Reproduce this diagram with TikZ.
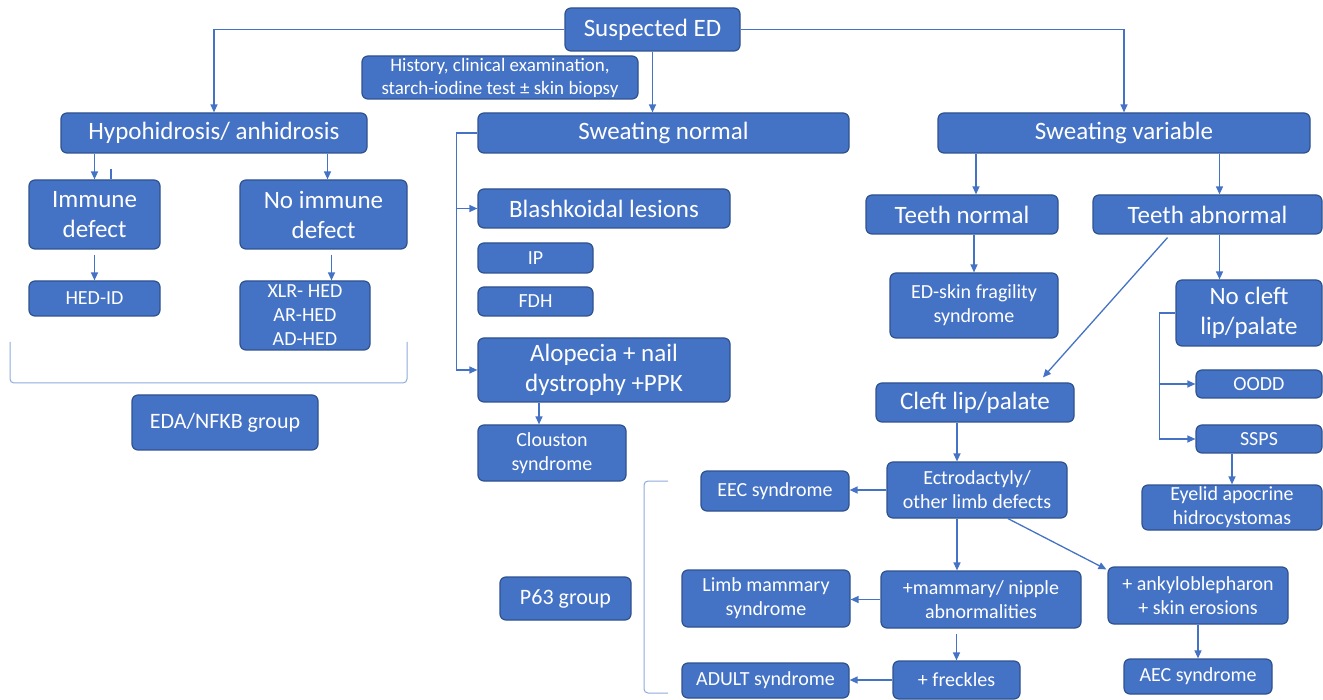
\documentclass[tikz,border=0pt]{standalone}
\usepackage{fontspec}
\setmainfont{Carlito}
\usepackage{tikz}
\usetikzlibrary{arrows.meta}
\definecolor{boxblue}{HTML}{4472C4}
\definecolor{boxedge}{HTML}{2F528F}
\definecolor{bracecol}{HTML}{8FAADC}

\begin{document}
\begin{tikzpicture}[x=1pt,y=-1pt,
	box/.style={draw=boxedge,fill=boxblue,text=white,rounded corners=6pt,line width=1.2pt,inner sep=0pt,align=center},
	big/.style={box,font=\fontsize{25}{30}\selectfont},
	small/.style={box,font=\fontsize{20}{24}\selectfont},
	note/.style={box,font=\fontsize{19}{23}\selectfont},
	group/.style={box,font=\fontsize{22}{26}\selectfont},
	link/.style={draw=boxblue,line width=1.3pt},
	brace/.style={draw=bracecol,line width=1pt,rounded corners=4pt},
	>={Triangle[length=8pt,width=7pt]}]
		\useasboundingbox (0,0) rectangle (1323,700);
		%
		\node[big,minimum width=175,minimum height=43] (sus) at (652.5,29.5) {Suspected ED};
		\node[note,minimum width=276,minimum height=43] (hist) at (500,77.5) {History, clinical examination,\\starch-iodine test ± skin biopsy};
		\node[big,minimum width=306,minimum height=40] (hypo) at (214,133) {Hypohidrosis/ anhidrosis};
		\node[big,minimum width=371,minimum height=40] (swn) at (663.5,133) {Sweating normal};
		\node[big,minimum width=372,minimum height=40] (swv) at (1124,133) {Sweating variable};
		%
		\node[big,minimum width=131,minimum height=69] (imm) at (94.5,214.5) {Immune\\defect};
		\node[big,minimum width=167,minimum height=69] (noimm) at (323.5,214.5) {No immune\\defect};
		\node[small,minimum width=131,minimum height=35] (hedid) at (94.5,298.5) {HED-ID};
		\node[small,minimum width=130,minimum height=69] (xlr) at (305,315.5) {XLR- HED\\AR-HED\\AD-HED};
		\node[group,minimum width=186,minimum height=55] (eda) at (225,422.5) {EDA/NFKB group};
		%
		\node[big,minimum width=252,minimum height=39] (blash) at (604,208.5) {Blashkoidal lesions};
		\node[small,minimum width=115,minimum height=30] (ip) at (535.5,258) {IP};
		\node[small,minimum width=115,minimum height=29] (fdh) at (535.5,301.5) {FDH};
		\node[big,minimum width=252,minimum height=64] (alop) at (604,370) {Alopecia + nail\\dystrophy +PPK};
		\node[small,minimum width=148,minimum height=56] (clou) at (552,453) {Clouston\\syndrome};
		\node[group,minimum width=131,minimum height=43] (p63) at (565.5,598.5) {P63 group};
		%
		\node[big,minimum width=192,minimum height=39] (tn) at (962,214.5) {Teeth normal};
		\node[big,minimum width=229,minimum height=39] (ta) at (1207.5,214.5) {Teeth abnormal};
		\node[small,minimum width=168,minimum height=65] (edskin) at (974,305.5) {ED-skin fragility\\syndrome};
		\node[big,minimum width=146,minimum height=66] (nocleft) at (1249,313) {No cleft\\lip/palate};
		\node[big,minimum width=198,minimum height=39] (cleft) at (975,402.5) {Cleft lip/palate};
		\node[small,minimum width=126,minimum height=28] (oodd) at (1259,384) {OODD};
		\node[small,minimum width=126,minimum height=28] (ssps) at (1259,439) {SSPS};
		\node[small,minimum width=180,minimum height=45] (eyelid) at (1232,507.5) {Eyelid apocrine\\hidrocystomas};
		\node[small,minimum width=180,minimum height=56] (ectro) at (977,490) {Ectrodactyly/\\other limb defects};
		\node[small,minimum width=148,minimum height=40] (eec) at (775,491) {EEC syndrome};
		\node[small,minimum width=200,minimum height=57] (mamm) at (981,599.5) {+mammary/ nipple\\abnormalities};
		\node[small,minimum width=180,minimum height=57] (ankylo) at (1198,595.5) {+ ankyloblepharon\\+ skin erosions};
		\node[small,minimum width=168,minimum height=57] (limb) at (766,598.5) {Limb mammary\\syndrome};
		\node[small,minimum width=127,minimum height=38] (freck) at (956.5,680) {+ freckles};
		\node[small,minimum width=167,minimum height=35] (adult) at (765.5,680.5) {ADULT syndrome};
		\node[small,minimum width=148,minimum height=35] (aec) at (1198,676.5) {AEC syndrome};
		%
		\draw[link,->] (sus.west) -| (hypo.north);
		\draw[link,->] (sus.south) -- (sus.south |- swn.north);
		\draw[link,->] (sus.east) -| (swv.north);
		%
		\draw[link,->] (imm.north |- hypo.south) -- (imm.north);
		\draw[link,->] ([xshift=4]noimm.north |- hypo.south) -- ([xshift=4]noimm.north);
		\coordinate (tick) at (111,169);
		\draw[link] (tick) -- (tick |- imm.north);
		\draw[link,->,shorten <=5pt] (imm.south) -- (hedid.north);
		\draw[link,->,shorten <=5pt] ([xshift=8]noimm.south) -- ([xshift=8]noimm.south |- xlr.north);
		\draw[brace] (10,342) -- (10,383) -- (407,383) -- (407,342);
		%
		\draw[link,->] (swn.west) -- ++(-21,0) |- (blash.west);
		\draw[link,->] (swn.west) -- ++(-21,0) |- (alop.west);
		\draw[link,->] ([xshift=-13]clou.north |- alop.south) -- ([xshift=-13]clou.north);
		\draw[brace] (668,481) -- (644,481) -- (644,693) -- (668,693);
		%
		\draw[link,->] ([xshift=14]tn.north |- swv.south) -- ([xshift=14]tn.north);
		\draw[link,->] ([xshift=12]ta.north |- swv.south) -- ([xshift=12]ta.north);
		\draw[link,->] (edskin.north |- tn.south) -- (edskin.north);
		\draw[link,->] ([xshift=12]ta.south) -- ([xshift=12]ta.south |- nocleft.north);
		\draw[link,->] ([xshift=-40,yshift=-3]ta.south) -- ([xshift=68,yshift=5]cleft.north);
		\draw[link,->] (nocleft.west) -- ++(-16,0) |- (oodd.west);
		\draw[link,->] (nocleft.west) -- ++(-16,0) |- (ssps.west);
		\draw[link,->] (eyelid.north |- ssps.south) -- (eyelid.north);
		%
		\draw[link,->] ([xshift=-18]cleft.south) -- ([xshift=-18]cleft.south |- ectro.north);
		\draw[link,->] (ectro.west) -- (ectro.west -| eec.east);
		\draw[link,->] ([xshift=-20]ectro.south) -- ([xshift=-20]ectro.south |- mamm.north);
		\draw[link,->] ([xshift=31]ectro.south) -- ([xshift=-1,yshift=-3]ankylo.north west);
		\draw[link,->] (mamm.west) -- (mamm.west -| limb.east);
		\draw[link,->,shorten <=5pt] (freck.north |- mamm.south) -- (freck.north);
		\draw[link,->] (freck.west) -- (freck.west -| adult.east);
		\draw[link,->] (ankylo.south) -- (aec.north);
	\end{tikzpicture}
\end{document}
